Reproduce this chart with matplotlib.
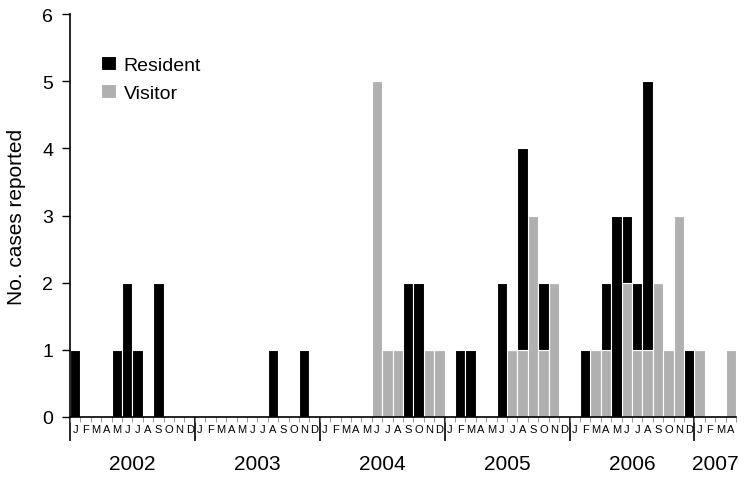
import matplotlib
matplotlib.use("Agg")
from matplotlib import pyplot as plt
import numpy as np

plt.rcParams['font.family'] = ['Liberation Sans', 'DejaVu Sans']

# monthly cases, Jan 2002 .. Apr 2007
years = ["2002", "2003", "2004", "2005", "2006", "2007"]
month_letters = ["J", "F", "M", "A", "M", "J", "J", "A", "S", "O", "N", "D"]
n_months = 64

resident = [
    1, 0, 0, 0, 1, 2, 1, 0, 2, 0, 0, 0,   # 2002
    0, 0, 0, 0, 0, 0, 0, 1, 0, 0, 1, 0,   # 2003
    0, 0, 0, 0, 0, 0, 0, 0, 2, 2, 0, 0,   # 2004
    0, 1, 1, 0, 0, 2, 0, 3, 0, 1, 0, 0,   # 2005
    0, 1, 0, 1, 3, 1, 1, 4, 0, 0, 0, 1,   # 2006
    0, 0, 0, 0,                           # 2007
]
visitor = [
    0, 0, 0, 0, 0, 0, 0, 0, 0, 0, 0, 0,
    0, 0, 0, 0, 0, 0, 0, 0, 0, 0, 0, 0,
    0, 0, 0, 0, 0, 5, 1, 1, 0, 0, 1, 1,
    0, 0, 0, 0, 0, 0, 1, 1, 3, 1, 2, 0,
    0, 0, 1, 1, 0, 2, 1, 1, 2, 1, 3, 0,
    1, 0, 0, 1,
]

black = "#000000"
grey = "#b0b0b0"

fig = plt.figure(figsize=(7.5, 4.85), dpi=100)
ax = fig.add_axes([70 / 750, 1 - 418 / 485, 666 / 750, 403 / 485])

x = np.arange(n_months) + 0.5
ax.bar(x, visitor, width=1, color=grey, edgecolor="white", linewidth=0.8, label="Visitor")
ax.bar(x, resident, width=1, bottom=visitor, color=black, edgecolor="white", linewidth=0.8, label="Resident")

ax.set_xlim(0, n_months)
ax.set_ylim(0, 6)
ax.set_yticks(range(7))
ax.tick_params(axis="y", direction="out", length=6, width=1, pad=6, labelsize=14)

ax.spines["top"].set_visible(False)
ax.spines["right"].set_visible(False)
ax.spines["left"].set_linewidth(1.2)
ax.spines["bottom"].set_linewidth(1.2)

# month letters under each bar, small ticks at month boundaries
ax.set_xticks(x)
ax.set_xticklabels([month_letters[i % 12] for i in range(n_months)], fontsize=8)
ax.tick_params(axis="x", which="major", length=0, pad=5)
ax.set_xticks(np.arange(n_months + 1), minor=True)
ax.tick_params(axis="x", which="minor", direction="out", length=3.5, width=0.6, color="#888888")

# long ticks at year boundaries
sec = ax.secondary_xaxis("bottom")
sec.set_xticks(np.arange(0, n_months, 12))
sec.set_xticklabels([])
sec.tick_params(axis="x", direction="out", length=17, width=1.2)
sec.spines["bottom"].set_visible(False)

# year labels centred on their months
for i, yr in enumerate(years):
    start = i * 12
    end = min(start + 12, n_months)
    ax.text((start + end) / 2, -0.115, yr, transform=ax.get_xaxis_transform(),
            ha="center", va="center", fontsize=15)

ax.set_ylabel("No. cases reported", fontsize=15, labelpad=12)

handles, labels = ax.get_legend_handles_labels()
ax.legend(handles[::-1], labels[::-1], loc="upper left", bbox_to_anchor=(0.035, 0.915),
          frameon=False, fontsize=14, handlelength=0.75, handleheight=0.75,
          handletextpad=0.4, labelspacing=0.5, borderaxespad=0)

fig.savefig("out.png", dpi=100)
